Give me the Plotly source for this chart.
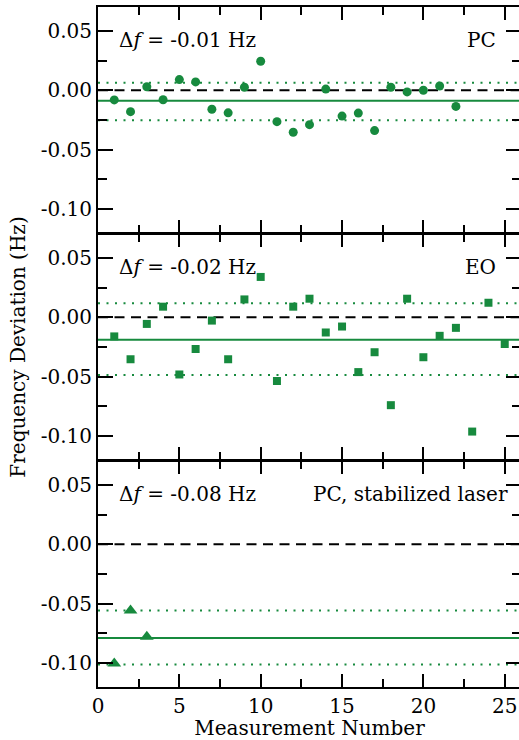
import plotly.graph_objects as go
from plotly.subplots import make_subplots

# ---- data ----
pc_n = list(range(1, 23))
pc_dev = [-0.0081, -0.0180, 0.0030, -0.0080, 0.0090, 0.0070, -0.0160, -0.0190, 0.0025, 0.0244,
          -0.0264, -0.0353, -0.0289, 0.0010, -0.0217, -0.0192, -0.0339, 0.0025, -0.0014, 0.0000,
          0.0036, -0.0136]
pc_mean, pc_lo, pc_hi = -0.0089, -0.0253, 0.0064

eo_n = list(range(1, 26))
eo_dev = [-0.0161, -0.0353, -0.0056, 0.0089, -0.0481, -0.0267, -0.0028, -0.0353, 0.0150, 0.0339,
          -0.0536, 0.0089, 0.0156, -0.0128, -0.0078, -0.0461, -0.0294, -0.0739, 0.0156, -0.0336,
          -0.0156, -0.0089, -0.0961, 0.0122, -0.0225]
eo_mean, eo_lo, eo_hi = -0.0189, -0.0486, 0.0117

st_n = [1, 2, 3]
st_dev = [-0.1003, -0.0556, -0.0778]
st_mean, st_lo, st_hi = -0.0789, -0.1011, -0.0556

left_labels = ["Δ<i>f</i> = -0.01 Hz", "Δ<i>f</i> = -0.02 Hz", "Δ<i>f</i> = -0.08 Hz"]
right_labels = ["PC", "EO", "PC, stabilized laser"]

y_tickvals = [0.05, 0.0, -0.05, -0.10]
y_ticktext = ["0.05", "0.00", "-0.05", "-0.10"]
x_tickvals = [0, 5, 10, 15, 20, 25]
x_ticktext = ["0", "5", "10", "15", "20", "25"]

GREEN = "#178a3e"
FONT = "DejaVu Serif"

fig = make_subplots(rows=3, cols=1, shared_xaxes=True, vertical_spacing=0)

series = [
    (pc_n, pc_dev, "circle", 9, pc_mean, pc_lo, pc_hi),
    (eo_n, eo_dev, "square", 8, eo_mean, eo_lo, eo_hi),
    (st_n, st_dev, "triangle-up", 12, st_mean, st_lo, st_hi),
]

for i, (xs, ys, sym, sz, m, lo, hi) in enumerate(series, start=1):
    fig.add_trace(go.Scatter(x=xs, y=ys, mode="markers",
                             marker=dict(symbol=sym, size=sz, color=GREEN, line=dict(width=0)),
                             showlegend=False, cliponaxis=False), row=i, col=1)
    fig.add_hline(y=0, line=dict(color="black", width=2, dash="10px,6.5px"), layer="below", row=i, col=1)
    fig.add_hline(y=m, line=dict(color=GREEN, width=2), layer="below", row=i, col=1)
    fig.add_hline(y=lo, line=dict(color=GREEN, width=2, dash="2px,6.5px"), layer="below", row=i, col=1)
    fig.add_hline(y=hi, line=dict(color=GREEN, width=2, dash="2px,6.5px"), layer="below", row=i, col=1)
    yref = "y domain" if i == 1 else f"y{i} domain"
    xref = "x domain" if i == 1 else f"x{i} domain"
    fig.add_annotation(text=left_labels[i - 1], xref=xref, yref=yref, x=0.045, y=0.915,
                       xanchor="left", yanchor="top", showarrow=False,
                       font=dict(family=FONT, size=20, color="black"))
    fig.add_annotation(text=right_labels[i - 1], xref=xref, yref=yref,
                       x=0.946 if i < 3 else 0.975, y=0.915,
                       xanchor="right", yanchor="top", showarrow=False,
                       font=dict(family=FONT, size=20, color="black"))

# panel domains: a 1px gap so neighbouring boundary lines merge into one
plot_h = 740 - 7 - 52
d = 1.0 / plot_h
p = (1.0 - 2 * d) / 3.0
domains = [[2 * p + 2 * d, 1.0], [p + d, 2 * p + d], [0.0, p]]

for i in range(1, 4):
    fig.update_yaxes(range=[-0.12, 0.07], tickvals=y_tickvals, ticktext=y_ticktext,
                     domain=domains[i - 1],
                     ticks="inside", ticklen=15, tickwidth=2, tickcolor="black",
                     showline=True, linewidth=2, linecolor="black", mirror="ticks",
                     showgrid=False, zeroline=False,
                     minor=dict(ticks="inside", ticklen=9, tickwidth=2, tickcolor="black", dtick=0.025, tick0=0, showgrid=False),
                     tickfont=dict(family=FONT, size=20, color="black"),
                     row=i, col=1)
    fig.update_xaxes(range=[0, 26], tickvals=x_tickvals, ticktext=x_ticktext,
                     ticks="inside", ticklen=13, tickwidth=2, tickcolor="black",
                     showline=True, linewidth=2, linecolor="black", mirror="ticks",
                     showgrid=False, zeroline=False,
                     minor=dict(ticks="inside", ticklen=8, tickwidth=2, tickcolor="black", dtick=2.5, tick0=0, showgrid=False),
                     tickfont=dict(family=FONT, size=20, color="black"),
                     showticklabels=(i == 3),
                     row=i, col=1)

fig.update_xaxes(title=dict(text="Measurement Number", font=dict(family=FONT, size=20, color="black"), standoff=4),
                 row=3, col=1)

fig.add_annotation(text="Frequency Deviation (Hz)", xref="paper", yref="paper",
                   x=-0.19, y=0.5, xanchor="center", yanchor="middle", textangle=-90,
                   showarrow=False, font=dict(family=FONT, size=20, color="black"))

fig.update_layout(width=527, height=740, autosize=False,
                  margin=dict(l=98, r=4, t=7, b=52),
                  plot_bgcolor="rgba(0,0,0,0)", paper_bgcolor="white",
                  font=dict(family=FONT, size=20, color="black"))

fig.write_html("out.html")
